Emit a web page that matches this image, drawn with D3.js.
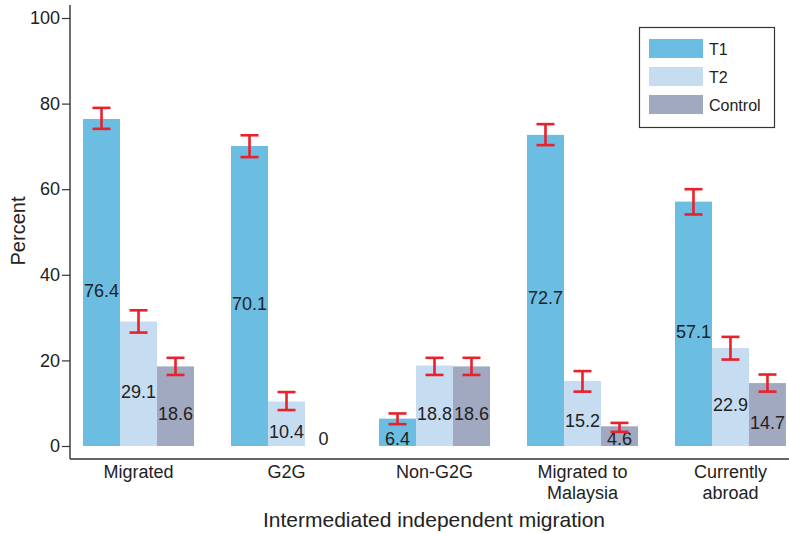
<!DOCTYPE html>
<html>
<head>
<script src="https://d3js.org/d3.v7.min.js"></script>
<style>
  body { margin: 0; background: #fff; }
  text { font-family: "Liberation Sans", Arial, sans-serif; fill: #222; }
</style>
</head>
<body>
<script>
// chart data
let categories = ["Migrated", "G2G", "Non-G2G", "Migrated to Malaysia", "Currently abroad"];
let catLines = [["Migrated"], ["G2G"], ["Non-G2G"], ["Migrated to", "Malaysia"], ["Currently", "abroad"]];
let groups = ["T1", "T2", "Control"];
let t1 = [76.4, 70.1, 6.4, 72.7, 57.1];
let t2 = [29.1, 10.4, 18.8, 15.2, 22.9];
let control = [18.6, 0, 18.6, 4.6, 14.7];
// error bar ends
let t1Low = [74.1, 67.5, 5.1, 70.3, 54.1];
let t1High = [79.0, 72.6, 7.6, 75.2, 60.0];
let t2Low = [26.5, 8.4, 16.6, 12.7, 20.2];
let t2High = [31.7, 12.6, 20.6, 17.5, 25.5];
let ctlLow = [16.6, null, 16.6, 3.3, 12.7];
let ctlHigh = [20.6, null, 20.6, 5.4, 16.7];
let yTicks = [0, 20, 40, 60, 80, 100];

let colors = {T1: "#6bbde2", T2: "#c6dcf1", Control: "#a0a9bf"};
let width = 789, height = 533;

let rows = [];
categories.forEach(function(c, i) {
  rows.push({cat: c, grp: "T1", v: t1[i], lo: t1Low[i], hi: t1High[i]});
  rows.push({cat: c, grp: "T2", v: t2[i], lo: t2Low[i], hi: t2High[i]});
  rows.push({cat: c, grp: "Control", v: control[i], lo: ctlLow[i], hi: ctlHigh[i]});
});

let svg = d3.select("body").append("svg")
  .attr("width", width).attr("height", height);

let y = d3.scaleLinear().domain([0, 100]).range([446, 18]);
let x0 = d3.scaleBand().domain(categories).range([70, 799])
  .paddingInner(0.25).paddingOuter(0.088);
let x1 = d3.scaleBand().domain(groups).range([0, x0.bandwidth()]);

// bars
svg.append("g").selectAll("rect").data(rows).enter().append("rect")
  .attr("x", d => x0(d.cat) + x1(d.grp))
  .attr("y", d => y(d.v))
  .attr("width", x1.bandwidth())
  .attr("height", d => y(0) - y(d.v))
  .attr("fill", d => colors[d.grp]);

// value labels
svg.append("g").selectAll("text").data(rows).enter().append("text")
  .attr("x", d => x0(d.cat) + x1(d.grp) + x1.bandwidth() / 2)
  .attr("y", d => Math.min(y(d.v / 2) + 14, y(0) - 1))
  .attr("text-anchor", "middle")
  .style("font-size", "18px")
  .text(d => d.v);

// error bars
let eb = svg.append("g").attr("stroke", "#e8212b").attr("stroke-width", 2.6)
  .selectAll("g").data(rows.filter(d => d.lo != null)).enter().append("g")
  .attr("transform", d => "translate(" + (x0(d.cat) + x1(d.grp) + x1.bandwidth() / 2) + ",0)");
eb.append("line").attr("x1", 0).attr("x2", 0).attr("y1", d => y(d.lo)).attr("y2", d => y(d.hi));
eb.append("line").attr("x1", -9).attr("x2", 9).attr("y1", d => y(d.lo)).attr("y2", d => y(d.lo));
eb.append("line").attr("x1", -9).attr("x2", 9).attr("y1", d => y(d.hi)).attr("y2", d => y(d.hi));

// y axis
let yAxis = svg.append("g").attr("transform", "translate(70,0)")
  .call(d3.axisLeft(y).tickValues(yTicks).tickSize(8).tickPadding(2));
yAxis.select(".domain").remove();
yAxis.selectAll("line").attr("stroke", "#333").attr("stroke-width", 1.2);
yAxis.selectAll("text").style("font-size", "18px").style("font-family", "Liberation Sans, Arial").attr("fill", "#222");
svg.append("line").attr("x1", 70).attr("x2", 70).attr("y1", 5).attr("y2", 459)
  .attr("stroke", "#333").attr("stroke-width", 1.4);
svg.append("line").attr("x1", 70).attr("x2", 789).attr("y1", 459).attr("y2", 459)
  .attr("stroke", "#333").attr("stroke-width", 1.4);

// category labels
let cl = svg.append("g").selectAll("text").data(categories).enter().append("text")
  .attr("x", d => x0(d) + x0.bandwidth() / 2)
  .attr("y", 478)
  .attr("text-anchor", "middle")
  .style("font-size", "18px");
cl.selectAll("tspan").data((d, i) => catLines[i]).enter().append("tspan")
  .attr("x", function() { return d3.select(this.parentNode).attr("x"); })
  .attr("dy", (d, i) => i == 0 ? 0 : 21)
  .text(d => d);

// axis titles
svg.append("text").attr("x", 434).attr("y", 527).attr("text-anchor", "middle")
  .style("font-size", "21px").text("Intermediated independent migration");
svg.append("text").attr("transform", "translate(25,231) rotate(-90)")
  .attr("text-anchor", "middle").style("font-size", "20px").text("Percent");

// legend
let lg = svg.append("g");
lg.append("rect").attr("x", 639.5).attr("y", 27.5).attr("width", 135).attr("height", 100)
  .attr("fill", "#fff").attr("stroke", "#333").attr("stroke-width", 1.2);
groups.forEach(function(g, i) {
  lg.append("rect").attr("x", 649).attr("y", 39 + i * 28).attr("width", 54).attr("height", 19)
    .attr("fill", colors[g]);
  lg.append("text").attr("x", 709).attr("y", 54.5 + i * 28).style("font-size", "16px").text(g);
});
</script>
</body>
</html>
